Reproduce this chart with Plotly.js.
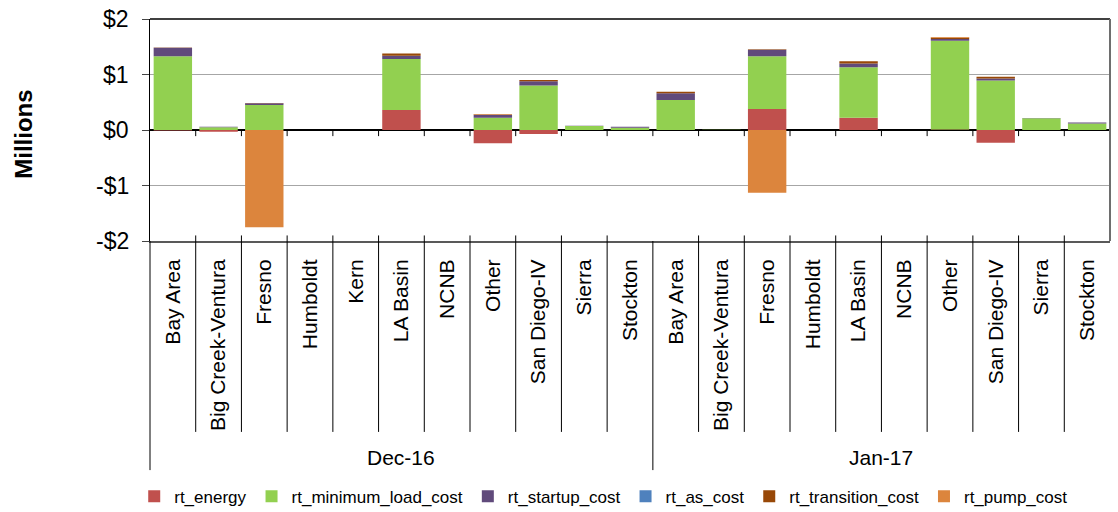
<!DOCTYPE html>
<html>
<head>
<meta charset="utf-8">
<script src="https://cdn.plot.ly/plotly-3.0.1.min.js"></script>
<style>html,body{margin:0;padding:0;background:#fff;}#chart{width:1118px;height:512px;}</style>
</head>
<body>
<div id="chart"></div>
<script>
// ---- data (values in $ millions) ----
const regionsDec = ["Bay Area","Big Creek-Ventura","Fresno","Humboldt","Kern","LA Basin","NCNB","Other","San Diego-IV","Sierra","Stockton"];
const regionsJan = ["Bay Area","Big Creek-Ventura","Fresno","Humboldt","LA Basin","NCNB","Other","San Diego-IV","Sierra","Stockton"];
const monthLabels = ["Dec-16","Jan-17"];

const rtEnergyDec      = [-0.01,-0.03,0,0,0,0.36,0,-0.24,-0.07,0,0];
const rtEnergyJan      = [0,0,0.38,0,0.22,0,0.01,-0.23,0,0];
const rtMinLoadDec     = [1.33,0.05,0.45,0,0,0.92,0,0.22,0.80,0.07,0.04];
const rtMinLoadJan     = [0.54,0.005,0.95,0,0.91,0,1.60,0.89,0.21,0.115];
const rtStartupDec     = [0.15,0.01,0.03,0,0,0.06,0,0.05,0.08,0.005,0.02];
const rtStartupJan     = [0.12,0,0.115,0,0.07,0,0.03,0.04,0.005,0.02];
const rtAsDec          = [0,0,0,0,0,0,0,0,0,0,0];
const rtAsJan          = [0,0,0,0,0,0,0,0,0,0];
const rtTransitionDec  = [0.005,0,0.005,0,0,0.04,0,0.01,0.02,0,0];
const rtTransitionJan  = [0.03,0,0.01,0,0.04,0,0.02,0.03,0,0];
const rtPumpDec        = [0,0,-1.75,0,0,0,0,0.01,0,0,0];
const rtPumpJan        = [0,0,-1.13,0,0,0,0.015,0,0,0];

const seriesNames = ["rt_energy","rt_minimum_load_cost","rt_startup_cost","rt_as_cost","rt_transition_cost","rt_pump_cost"];
const yTickVals = [-2,-1,0,1,2];
const yTickText = ["-$2","-$1","$0","$1","$2"];

// ---- build ----
const keys = regionsDec.map(r => monthLabels[0] + "|" + r).concat(regionsJan.map(r => monthLabels[1] + "|" + r));
const tickText = regionsDec.concat(regionsJan);
const colors = ["#C0504D","#92D050","#604A7B","#4F81BD","#984807","#DC853D"];
const seriesVals = [
  rtEnergyDec.concat(rtEnergyJan),
  rtMinLoadDec.concat(rtMinLoadJan),
  rtStartupDec.concat(rtStartupJan),
  rtAsDec.concat(rtAsJan),
  rtTransitionDec.concat(rtTransitionJan),
  rtPumpDec.concat(rtPumpJan)
];
const traces = seriesNames.map((n,i) => ({
  type: "bar", name: n, x: keys, y: seriesVals[i],
  marker: {color: colors[i], line: {width: 0}}
}));

const FONT = "Arial, 'Liberation Sans', sans-serif";
const nDec = regionsDec.length, nAll = keys.length;
const shapes = [];
for (let i = 0; i < nAll - 1; i++) {
  const xb = i + 0.5;
  if (i === nDec - 1) {
    shapes.push({type:"line", xref:"x", yref:"paper", x0:xb, x1:xb, y0:0, y1:-1.032, line:{color:"#000", width:1}});
  } else {
    shapes.push({type:"line", xref:"x", yref:"paper", x0:xb, x1:xb, y0:0.025, y1:-0.86, line:{color:"#000", width:1}});
  }
  shapes.push({type:"line", xref:"x", yref:"y", x0:xb, x1:xb, y0:0, y1:-0.11, line:{color:"#000", width:1}});
}
shapes.push({type:"line", xref:"paper", yref:"paper", x0:0, x1:0, y0:0, y1:-1.032, line:{color:"#000", width:1}});
shapes.push({type:"line", xref:"paper", yref:"paper", x0:0, x1:1, y0:1, y1:1, line:{color:"#000", width:1.5}});
shapes.push({type:"line", xref:"paper", yref:"paper", x0:1, x1:1, y0:0, y1:1, line:{color:"#6E6E6E", width:2}});

const annotations = [
  {xref:"x", yref:"paper", x:(nDec-1)/2, y:-0.977, text:monthLabels[0], showarrow:false, xanchor:"center", yanchor:"middle", font:{family:FONT, size:21, color:"#000"}},
  {xref:"x", yref:"paper", x:(nDec + nAll - 1)/2, y:-0.977, text:monthLabels[1], showarrow:false, xanchor:"center", yanchor:"middle", font:{family:FONT, size:21, color:"#000"}},
  {xref:"paper", yref:"paper", x:-0.132, y:0.48, text:"<b>Millions</b>", textangle:-90, showarrow:false, xanchor:"center", yanchor:"middle", font:{family:FONT, size:24, color:"#000"}}
].concat(yTickVals.map((v,i) => ({
  xref:"paper", yref:"y", x:-0.021, y:v, text:yTickText[i], showarrow:false, xanchor:"right", yanchor:"middle",
  borderpad:0, font:{family:FONT, size:23, color:"#000"}
})));

const layout = {
  width: 1118, height: 512,
  margin: {l:150, r:8, t:19, b:271, pad:0},
  paper_bgcolor: "#fff", plot_bgcolor: "#fff",
  barmode: "relative", bargap: 0.16,
  font: {family: FONT, color: "#000"},
  showlegend: true,
  legend: {orientation:"h", xref:"container", yref:"container", x:0.54, y:0.03, xanchor:"center", yanchor:"middle",
           font:{family:FONT, size:17, color:"#000"}, itemwidth:30, traceorder:"normal", tracegroupgap:0},
  xaxis: {type:"category", tickvals:keys, ticktext:tickText, tickangle:-90, ticks:"", showgrid:false,
          showline:true, linecolor:"#595959", linewidth:2, zeroline:false,
          tickfont:{family:FONT, size:21, color:"#000"}, ticklabelstandoff:8, automargin:false, fixedrange:true},
  yaxis: {range:[-2,2], tickvals:yTickVals, showticklabels:false, ticks:"outside", ticklen:7, tickcolor:"#444", tickwidth:1,
          showgrid:true, gridcolor:"#A6A6A6", gridwidth:1.5, zeroline:true, zerolinecolor:"#000", zerolinewidth:1.5,
          showline:true, linecolor:"#000", linewidth:1.5, automargin:false, fixedrange:true},
  shapes: shapes,
  annotations: annotations
};

Plotly.newPlot("chart", traces, layout, {displayModeBar:false, staticPlot:true});
</script>
</body>
</html>
